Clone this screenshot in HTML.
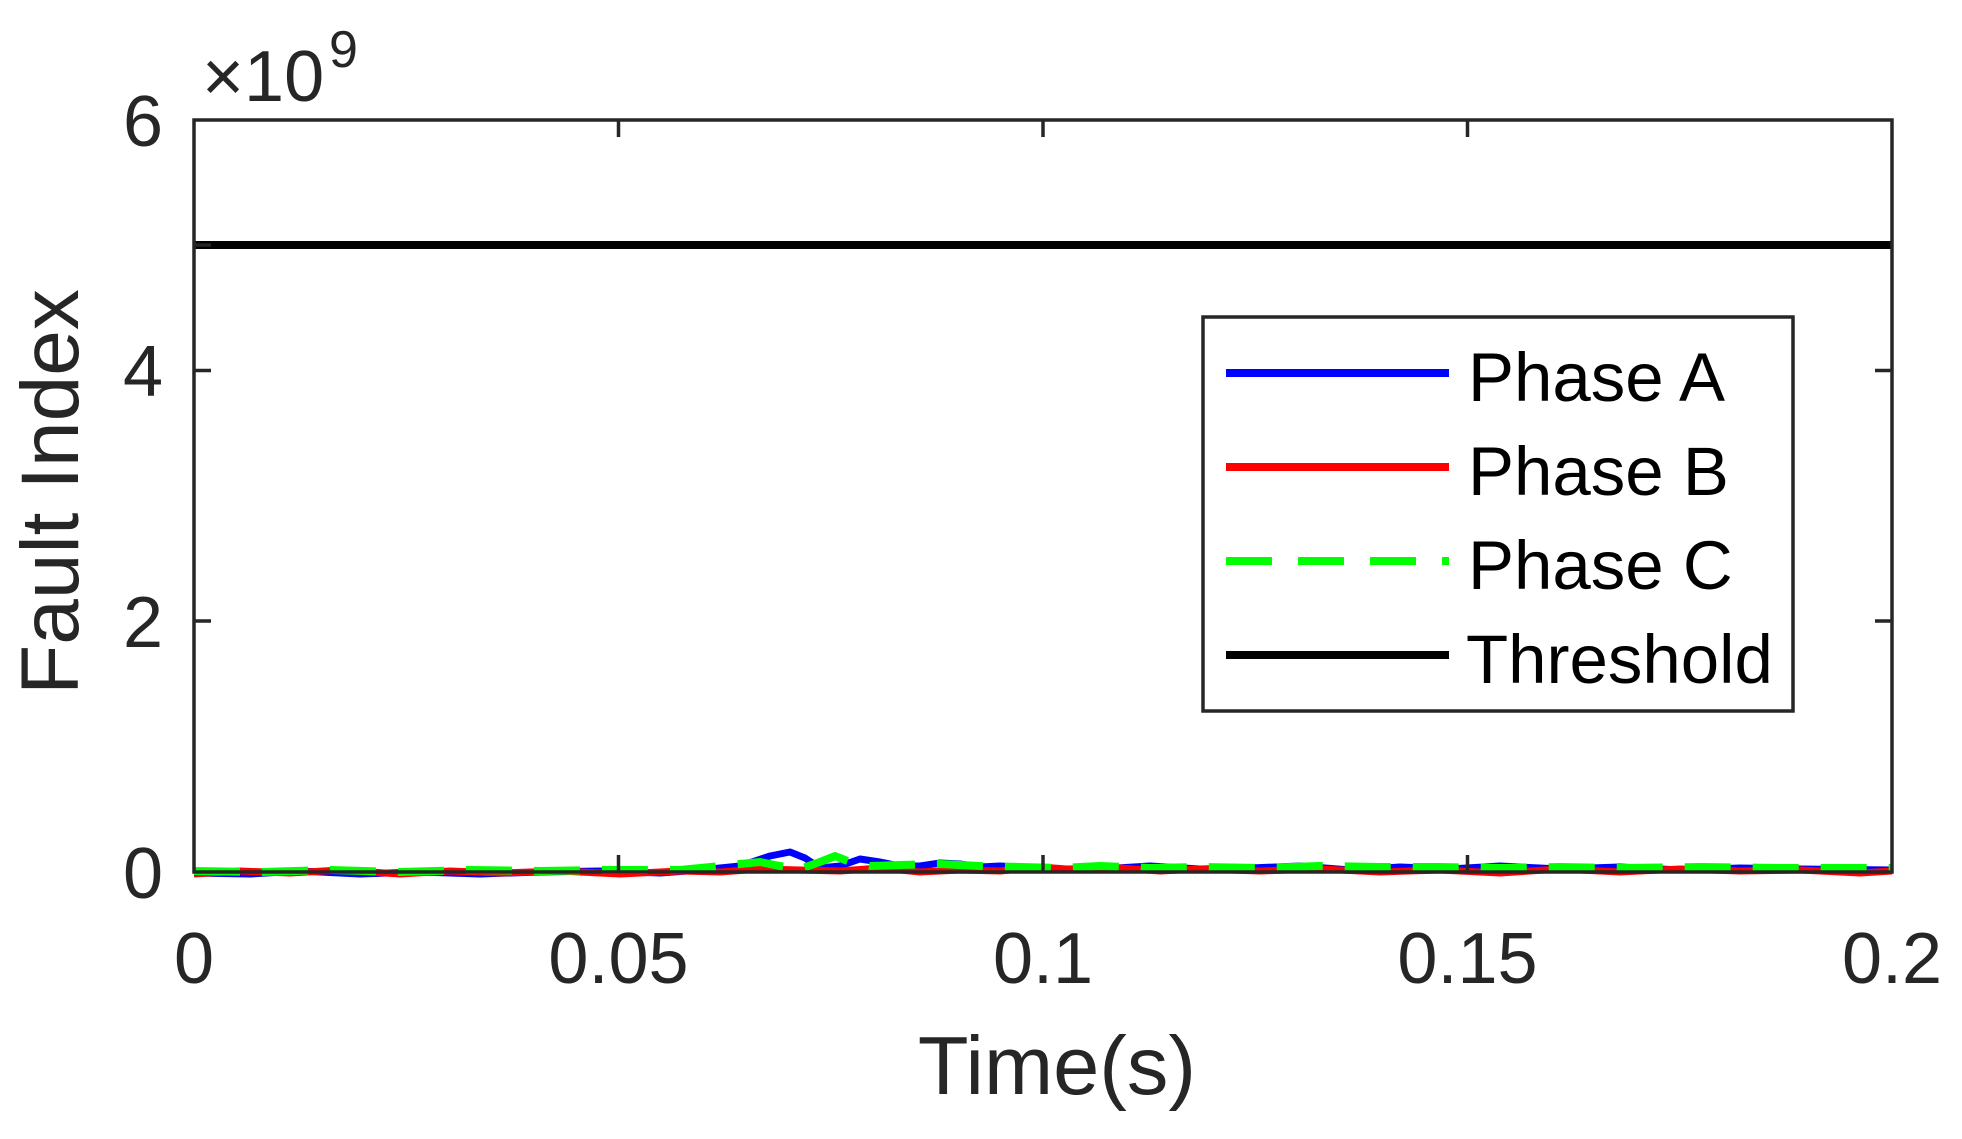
<!DOCTYPE html>
<html><head><meta charset="utf-8"><style>
html,body{margin:0;padding:0;background:#fff;}
svg{display:block;font-family:"Liberation Sans",Arial,sans-serif;}
</style></head><body>
<svg width="1962" height="1139" viewBox="0 0 1962 1139" xmlns="http://www.w3.org/2000/svg">
<rect width="1962" height="1139" fill="#fff"/>
<!-- series -->
<polyline fill="none" stroke="#0000ff" stroke-width="7" stroke-linejoin="round" points="194,873 250,874 300,871 360,874 420,872 480,874 540,872 600,871 660,873 700,870 740,866 770,856 790,852 805,858 820,868 840,866 860,859 880,862 900,866 920,866 940,863 960,864 980,867 1000,866 1050,869 1100,869 1150,866 1200,869 1250,868 1300,866 1350,870 1400,867 1450,869 1500,866 1560,869 1620,867 1680,870 1740,868 1800,869 1892,870"/>
<polyline fill="none" stroke="#ff0000" stroke-width="7" stroke-linejoin="round" points="194,874 240,871 290,873 340,870 400,874 450,871 500,873 560,871 620,874 680,871 720,872 760,869 800,870 840,871 880,868 920,872 960,870 1000,871 1040,867 1080,870 1120,868 1160,871 1200,869 1260,871 1320,869 1380,872 1440,870 1500,873 1560,869 1620,872 1680,869 1740,871 1800,870 1860,873 1892,871"/>
<polyline fill="none" stroke="#00ff00" stroke-width="8" stroke-dasharray="46,22" points="194,871 260,872 330,870 400,872 470,870 540,871 600,870 680,870 720,866 760,862 780,866 800,869 820,862 835,856 850,862 870,866 900,865 940,864 980,866 1020,867 1060,868 1100,866 1150,868 1200,867 1260,868 1320,866 1380,867 1440,867 1500,868 1560,867 1620,868 1700,867 1780,868 1892,868"/>
<!-- threshold -->
<line x1="194" y1="245" x2="1892" y2="245" stroke="#000" stroke-width="8"/>
<!-- axes box -->
<rect x="194" y="120" width="1698" height="752" fill="none" stroke="#262626" stroke-width="3.5"/>
<g stroke="#262626" stroke-width="3.5">
<line x1="194" y1="370.5" x2="211" y2="370.5"/><line x1="194" y1="621" x2="211" y2="621"/>
<line x1="1892" y1="370.5" x2="1875" y2="370.5"/><line x1="1892" y1="621" x2="1875" y2="621"/>
<line x1="194" y1="245" x2="211" y2="245"/>
<line x1="618.5" y1="872" x2="618.5" y2="855"/><line x1="1043" y1="872" x2="1043" y2="855"/><line x1="1467.5" y1="872" x2="1467.5" y2="855"/>
<line x1="618.5" y1="120" x2="618.5" y2="137"/><line x1="1043" y1="120" x2="1043" y2="137"/><line x1="1467.5" y1="120" x2="1467.5" y2="137"/>
</g>
<!-- y tick labels -->
<g fill="#262626" font-size="72" text-anchor="end">
<text x="163" y="146">6</text>
<text x="163" y="396">4</text>
<text x="163" y="647">2</text>
<text x="163" y="898">0</text>
</g>
<!-- x tick labels -->
<g fill="#262626" font-size="72" text-anchor="middle">
<text x="194" y="983">0</text>
<text x="618.5" y="983">0.05</text>
<text x="1043" y="983">0.1</text>
<text x="1467.5" y="983">0.15</text>
<text x="1892" y="983">0.2</text>
</g>
<!-- exponent -->
<text x="202" y="101" font-size="72" fill="#262626">×10</text>
<text x="329" y="67" font-size="52" fill="#262626">9</text>
<!-- axis labels -->
<text x="1057" y="1094" font-size="83" fill="#262626" text-anchor="middle">Time(s)</text>
<text transform="translate(78,492) rotate(-90)" font-size="82" fill="#262626" text-anchor="middle">Fault Index</text>
<!-- legend -->
<rect x="1203" y="317" width="590" height="394" fill="#fff" stroke="#262626" stroke-width="3.5"/>
<line x1="1226" y1="373" x2="1449" y2="373" stroke="#0000ff" stroke-width="8"/>
<line x1="1226" y1="467" x2="1449" y2="467" stroke="#ff0000" stroke-width="8"/>
<line x1="1226" y1="561" x2="1449" y2="561" stroke="#00ff00" stroke-width="8" stroke-dasharray="46,26"/>
<line x1="1226" y1="655" x2="1449" y2="655" stroke="#000" stroke-width="8"/>
<g font-size="69" fill="#000">
<text x="1468" y="401">Phase A</text>
<text x="1468" y="495">Phase B</text>
<text x="1468" y="589">Phase C</text>
<text x="1466" y="683">Threshold</text>
</g>
</svg>
</body></html>
